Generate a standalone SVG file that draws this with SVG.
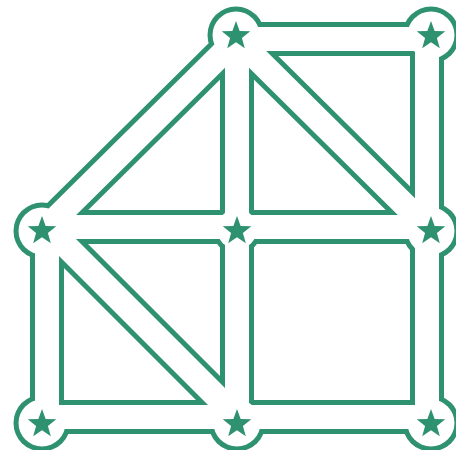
<svg xmlns="http://www.w3.org/2000/svg" width="456" height="450" viewBox="0 0 456 450">
<style>
.ol{stroke:#2e9170;stroke-width:34;stroke-linecap:round;stroke-linejoin:round;fill:none}
.fl{stroke:#ffffff;stroke-width:24;stroke-linecap:round;stroke-linejoin:round;fill:none}
.halo-o{fill:#2e9170}
.halo-f{fill:#ffffff}
.star{fill:#2e9170}
</style>
<defs>
<path id="star" d="M0,-15 L3.64,-5.02 L14.27,-4.64 L5.9,1.92 L8.82,12.14 L0,6.2 L-8.82,12.14 L-5.9,1.92 L-14.27,-4.64 L-3.64,-5.02 Z"/>
</defs>
<rect width="456" height="450" fill="#ffffff"/>
<g id="node-outlines">
<circle class="halo-o" cx="236" cy="35" r="28.5"/>
<circle class="halo-o" cx="431" cy="35" r="28.5"/>
<circle class="halo-o" cx="42" cy="231" r="28.5"/>
<circle class="halo-o" cx="237" cy="229" r="25"/>
<circle class="halo-o" cx="431" cy="231" r="28.5"/>
<circle class="halo-o" cx="42" cy="423" r="28.5"/>
<circle class="halo-o" cx="237" cy="423" r="28.5"/>
<circle class="halo-o" cx="431" cy="423" r="28.5"/>
</g>
<g id="connectors">
<g class="ol">
<path d="M237,39 L427,39"/>
<path d="M237,39 L47,227"/>
<path d="M237,39 L237,227"/>
<path d="M237,39 L427,227"/>
<path d="M427,39 L427,227"/>
<path d="M47,227 L237,227"/>
<path d="M237,227 L427,227"/>
<path d="M47,227 L47,417"/>
<path d="M47,227 L237,417"/>
<path d="M237,227 L237,417"/>
<path d="M427,227 L427,417"/>
<path d="M47,417 L237,417"/>
<path d="M237,417 L427,417"/>
</g>
<g class="fl">
<path d="M237,39 L427,39"/>
<path d="M237,39 L47,227"/>
<path d="M237,39 L237,227"/>
<path d="M237,39 L427,227"/>
<path d="M427,39 L427,227"/>
<path d="M47,227 L237,227"/>
<path d="M237,227 L427,227"/>
<path d="M47,227 L47,417"/>
<path d="M47,227 L237,417"/>
<path d="M237,227 L237,417"/>
<path d="M427,227 L427,417"/>
<path d="M47,417 L237,417"/>
<path d="M237,417 L427,417"/>
</g>
</g>
<g id="node-1"><circle class="halo-f" cx="236" cy="35" r="23.5"/><use href="#star" class="star" x="236" y="36"/></g>
<g id="node-2"><circle class="halo-f" cx="431" cy="35" r="23.5"/><use href="#star" class="star" x="431" y="36"/></g>
<g id="node-3"><circle class="halo-f" cx="42" cy="231" r="23.5"/><use href="#star" class="star" x="42" y="231"/></g>
<g id="node-4"><circle class="halo-f" cx="237" cy="229" r="20"/><use href="#star" class="star" x="237" y="231"/></g>
<g id="node-5"><circle class="halo-f" cx="431" cy="231" r="23.5"/><use href="#star" class="star" x="431" y="231"/></g>
<g id="node-6"><circle class="halo-f" cx="42" cy="423" r="23.5"/><use href="#star" class="star" x="42" y="424"/></g>
<g id="node-7"><circle class="halo-f" cx="237" cy="423" r="23.5"/><use href="#star" class="star" x="237" y="424"/></g>
<g id="node-8"><circle class="halo-f" cx="431" cy="423" r="23.5"/><use href="#star" class="star" x="431" y="424"/></g>
</svg>
